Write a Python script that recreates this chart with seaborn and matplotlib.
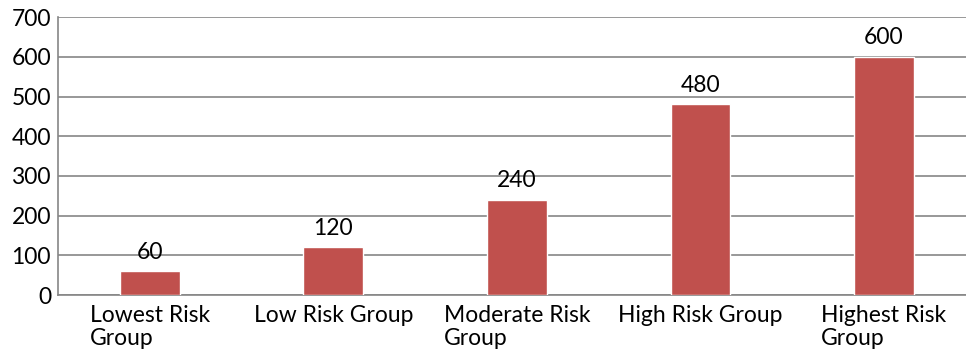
import matplotlib
matplotlib.use('Agg')
import matplotlib.pyplot as plt
import seaborn as sns
import pandas as pd

groups = ['Lowest Risk\nGroup', 'Low Risk Group', 'Moderate Risk\nGroup', 'High Risk Group', 'Highest Risk\nGroup']
values = [60, 120, 240, 480, 600]

df = pd.DataFrame({'group': groups, 'value': values})

sns.set_style('white')
plt.rcParams['font.family'] = ['Lato', 'DejaVu Sans']

fig = plt.figure(figsize=(9.66, 3.56), dpi=100)
ax = fig.add_axes([0.060, 0.171, 0.950, 0.781])
sns.barplot(data=df, x='group', y='value', color='#C0504D', saturation=1,
            width=0.325, edgecolor='white', linewidth=1, ax=ax, zorder=3)

ax.set_ylim(0, 700)
ax.set_yticks(range(0, 701, 100))
ax.yaxis.grid(True, color='#868686', linewidth=1.2, zorder=0)
ax.set_axisbelow(True)
for s in ['top', 'right']:
    ax.spines[s].set_visible(False)
ax.spines['left'].set_color('#868686')
ax.spines['bottom'].set_color('#868686')
ax.spines['left'].set_linewidth(1.2)
ax.spines['bottom'].set_linewidth(1.2)
ax.set_xlabel('')
ax.set_ylabel('')
ax.tick_params(axis='both', length=0, labelsize=16.5, colors='black')
ax.tick_params(axis='x', pad=7)
ax.tick_params(axis='y', pad=5)
for lbl in ax.get_xticklabels():
    lbl.set_multialignment('left')
    lbl.set_linespacing(1.1)

for i, v in enumerate(values):
    ax.text(i, v + 22, str(v), ha='center', va='bottom', fontsize=16.5,
            color='black', zorder=5)

fig.savefig('out.png', dpi=100)
